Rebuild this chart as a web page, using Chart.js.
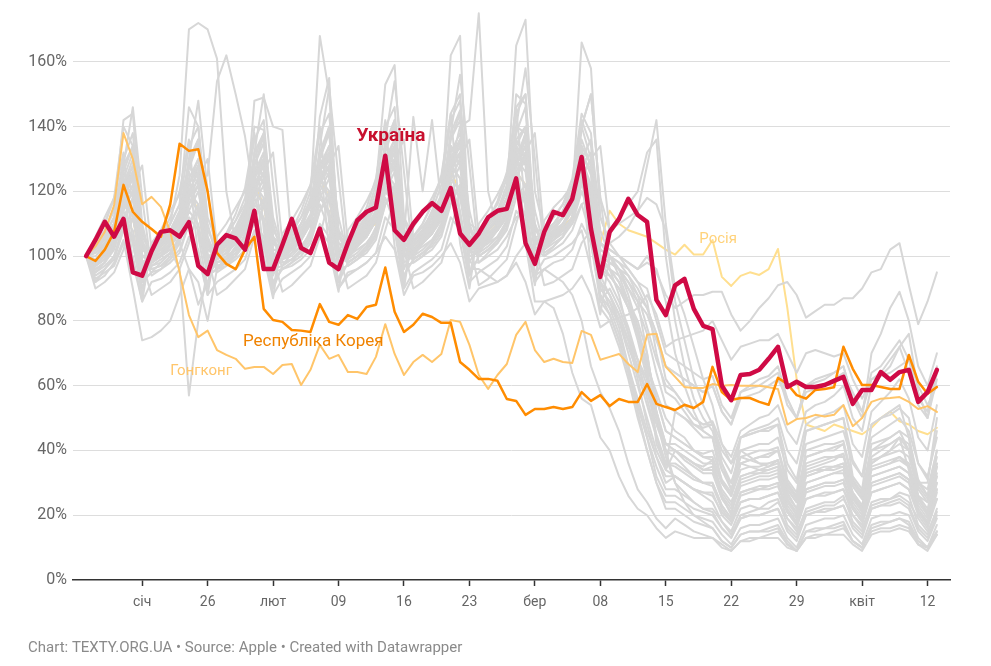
<!DOCTYPE html>
<html>
<head>
<meta charset="utf-8">
<script src="https://cdn.jsdelivr.net/npm/chart.js@4.4.1/dist/chart.umd.min.js"></script>
<style>
  html, body { margin: 0; padding: 0; background: #fff; }
  #wrap { width: 991px; height: 666px; }
</style>
</head>
<body>
<div id="wrap"><canvas id="mobility" width="991" height="666"></canvas></div>
<script>
// days since 13 Jan 2020 (Mon) .. 13 Apr 2020
const dayCount = 92;
const tickDays = [6, 13, 20, 27, 34, 41, 48, 55, 62, 69, 76, 83, 90];
const tickLabels = ["січ", "26", "лют", "09", "16", "23", "бер", "08", "15", "22", "29", "квіт", "12"];
const yTicks = [0, 20, 40, 60, 80, 100, 120, 140, 160];

const ukraine = [
  100, 105, 110.6, 106, 111.5, 95, 94,
  101.5, 107.5, 108, 106, 110.5, 97, 94.5,
  103.5, 106.5, 105.5, 102, 114, 96, 96,
  103.5, 111.5, 102.5, 101, 108.5, 98, 96,
  104, 111, 113.7, 115, 131, 108, 105,
  110, 113.7, 116.4, 114, 121, 107, 103.5,
  107, 112, 114, 114.6, 124, 104, 97.6,
  107.5, 113.7, 112.7, 117.7, 130.6, 108.4, 93.6,
  107.5, 111.5, 117.7, 112.7, 110.6, 86.5, 81.8,
  91, 93, 83.7, 78.5, 77.5, 60, 55.5,
  63.3, 63.6, 64.9, 68.3, 72, 59.6, 61.2,
  59.6, 59.6, 60.2, 61.5, 62.7, 54.4, 58.7,
  58.7, 64.2, 61.8, 64.2, 64.9, 55, 58,
  64.9
];

const korea = [
  100, 98.5, 102, 107.5, 122, 113.7, 110.6,
  108.4, 106, 116, 134.7, 132.5, 133, 120,
  101, 97.6, 96, 102, 106, 83.7, 80.3,
  79.7, 77.2, 77, 76.6, 85.2, 79.7, 78.8,
  81.8, 80.6, 84.3, 85, 96.5, 82.8, 76.6,
  78.8, 82.2, 81.2, 79.4, 79.4, 67.3, 64.9,
  62.1, 62.1, 61.5, 55.9, 55.3, 51, 52.8,
  52.8, 53.4, 52.8, 53.4, 58, 55.3, 57.1,
  53.7, 55.9, 55, 55, 60.5, 54.4, 53.4,
  52.5, 54.1, 53.1, 55, 65.8, 58, 55.6,
  56.2, 56.2, 55, 54.1, 62.4, 60.5, 57.1,
  56, 58.7, 59, 59.5, 72, 65.2, 60.2,
  60.2, 59.6, 59, 59, 69.5, 61.2, 57.5,
  59.6
];

const hongKong = [
  100, 103, 107.5, 115.8, 138, 130, 116,
  118.3, 115.2, 107.5, 95, 81.8, 75, 77,
  71, 69.5, 68.3, 65.2, 65.8, 65.8, 63.6,
  66.4, 66.7, 60.2, 64.9, 72.6, 68.3, 69.5,
  64.2, 64.2, 63.6, 68.9, 79, 69.8, 63.3,
  67.3, 69.5, 67.3, 69.8, 80.3, 79.7, 72.6,
  63.3, 59, 63.3, 66.7, 75.7, 79.7, 71,
  67.3, 68.3, 67.3, 67, 76.9, 75.7, 68,
  68.9, 69.8, 66.7, 64.2, 75.7, 76, 65.8,
  62.7, 59.6, 59.3, 59.3, 60.5, 60, 60.2,
  60, 60, 60, 59.5, 59, 48, 49.7,
  50, 51, 50.5, 51, 54, 47.5, 50,
  55, 56, 56.2, 56.5, 55, 52.8, 53.7,
  51.9
];

const russia = [
  100, 101, 104, 108, 118, 112, 96,
  100, 102, 105, 109, 120, 114, 98,
  100, 103, 106, 110, 122, 116, 98,
  101, 104, 107, 111, 124, 118, 100,
  102, 105, 108, 110, 124, 118, 100,
  103, 106, 109, 112, 126, 120, 102,
  104, 107, 110, 113, 126, 122, 102,
  104, 106, 109, 112, 124, 118, 104,
  114, 110, 108, 107, 106, 104, 102,
  100.5, 103.5, 100.5, 100.5, 105, 93.6, 90.8,
  93.9, 95, 94.2, 96, 102.2, 84, 62,
  48, 47, 46, 48, 47, 46, 45,
  47, 50, 52, 49, 48, 46, 45,
  47
];

// all other countries (grey)
const otherCountries = [
  [100, 98, 103, 108, 122, 130, 96, 99, 104, 110, 125, 170, 172, 170, 161, 120, 104, 108, 128, 135, 98, 101, 104, 108, 112, 130, 140, 97, 102, 106, 110, 116, 135, 142, 100, 104, 108, 112, 118, 138, 145, 102, 106, 110, 114, 120, 140, 138, 104, 108, 110, 112, 118, 132, 125, 92, 88, 82, 74, 62, 48, 38, 30, 32, 30, 28, 26, 24, 18, 15, 22, 23, 22, 24, 25, 17, 14, 22, 23, 24, 24, 26, 18, 15, 24, 25, 25, 27, 26, 17, 14, 22],
  [100, 97, 99, 104, 115, 120, 105, 98, 101, 106, 112, 118, 122, 125, 154, 162, 150, 137, 118, 124, 100, 99, 102, 106, 110, 122, 128, 102, 100, 104, 108, 114, 126, 132, 104, 102, 105, 109, 114, 128, 134, 106, 103, 107, 110, 116, 128, 136, 104, 104, 108, 110, 114, 125, 120, 96, 94, 90, 86, 80, 70, 52, 42, 40, 38, 36, 34, 35, 26, 22, 30, 31, 32, 32, 33, 24, 20, 30, 31, 32, 33, 34, 25, 21, 32, 33, 34, 35, 33, 24, 20, 30],
  [100, 103, 108, 115, 142, 144, 110, 98, 100, 104, 112, 128, 136, 104, 96, 100, 105, 112, 148, 149, 140, 139, 104, 108, 116, 130, 138, 102, 100, 104, 110, 118, 134, 140, 104, 101, 106, 112, 118, 136, 142, 106, 104, 108, 112, 118, 136, 140, 102, 104, 106, 110, 116, 130, 122, 90, 86, 78, 66, 54, 44, 35, 28, 28, 26, 24, 22, 21, 16, 13, 19, 20, 20, 21, 22, 15, 12, 20, 21, 22, 22, 23, 16, 13, 22, 23, 23, 24, 22, 15, 12, 19],
  [100, 102, 106, 112, 128, 134, 100, 99, 103, 107, 113, 130, 136, 102, 100, 104, 108, 114, 132, 138, 104, 101, 106, 110, 118, 168, 150, 106, 102, 106, 112, 120, 140, 146, 106, 104, 108, 114, 122, 142, 148, 108, 106, 110, 114, 122, 144, 150, 106, 106, 110, 114, 122, 140, 130, 98, 96, 92, 86, 78, 66, 56, 46, 44, 42, 40, 39, 40, 31, 27, 36, 37, 38, 39, 40, 29, 25, 38, 39, 40, 41, 42, 30, 26, 40, 41, 42, 44, 42, 30, 26, 38],
  [100, 96, 98, 103, 112, 118, 92, 95, 98, 101, 106, 116, 122, 94, 96, 99, 103, 108, 120, 126, 96, 97, 101, 105, 111, 143, 155, 100, 99, 103, 107, 112, 124, 130, 98, 100, 104, 108, 113, 126, 132, 100, 101, 105, 109, 114, 128, 134, 100, 102, 105, 108, 112, 120, 112, 86, 82, 74, 64, 52, 40, 30, 24, 24, 22, 20, 19, 18, 14, 11, 16, 17, 17, 18, 19, 13, 10, 17, 18, 19, 19, 20, 14, 11, 19, 20, 20, 21, 20, 13, 10, 17],
  [100, 104, 108, 114, 130, 138, 106, 101, 105, 110, 116, 134, 140, 108, 102, 106, 111, 118, 136, 142, 108, 103, 107, 112, 120, 138, 144, 108, 104, 108, 113, 122, 153, 159, 112, 106, 110, 116, 124, 144, 150, 110, 108, 112, 116, 124, 146, 150, 108, 108, 112, 116, 122, 142, 134, 102, 100, 96, 90, 84, 76, 64, 54, 52, 50, 48, 47, 48, 38, 33, 44, 45, 46, 47, 48, 36, 31, 46, 47, 48, 49, 50, 37, 32, 48, 50, 51, 53, 50, 36, 31, 46],
  [100, 99, 102, 106, 124, 132, 98, 100, 101, 104, 109, 127, 135, 100, 100, 102, 106, 110, 128, 137, 100, 101, 103, 107, 112, 130, 139, 101, 102, 104, 108, 114, 132, 141, 102, 103, 106, 110, 116, 162, 168, 104, 104, 108, 112, 118, 138, 146, 104, 106, 108, 112, 118, 136, 128, 96, 92, 86, 78, 68, 56, 45, 36, 35, 33, 31, 30, 30, 23, 19, 27, 28, 28, 29, 30, 21, 17, 28, 29, 30, 30, 31, 22, 18, 30, 31, 32, 33, 31, 21, 17, 28],
  [100, 101, 103, 106, 118, 124, 102, 101, 102, 105, 108, 120, 126, 104, 102, 104, 106, 110, 122, 128, 104, 103, 105, 108, 112, 124, 130, 106, 104, 106, 109, 114, 126, 132, 106, 105, 107, 110, 115, 128, 140, 142, 175, 120, 108, 112, 124, 130, 104, 104, 106, 108, 112, 122, 118, 96, 94, 90, 84, 76, 66, 58, 50, 46, 44, 40, 38, 37, 30, 26, 34, 35, 35, 36, 37, 28, 24, 35, 36, 37, 38, 38, 29, 25, 37, 38, 39, 40, 38, 28, 24, 35],
  [100, 103, 106, 110, 126, 134, 104, 101, 104, 107, 112, 128, 136, 104, 102, 105, 108, 113, 130, 138, 106, 103, 106, 110, 115, 132, 140, 106, 104, 107, 111, 116, 134, 142, 108, 105, 108, 112, 118, 136, 144, 108, 106, 109, 113, 120, 165, 173, 120, 108, 112, 116, 124, 144, 138, 104, 100, 94, 86, 76, 64, 52, 42, 40, 37, 35, 33, 33, 25, 21, 29, 30, 31, 31, 32, 23, 19, 30, 31, 32, 33, 33, 24, 20, 32, 33, 34, 35, 33, 23, 19, 30],
  [100, 98, 101, 105, 120, 126, 96, 98, 100, 103, 108, 122, 128, 98, 99, 101, 104, 109, 124, 130, 98, 100, 102, 105, 110, 126, 132, 100, 100, 103, 106, 112, 128, 134, 100, 101, 104, 107, 113, 130, 136, 102, 102, 105, 108, 114, 150, 147, 104, 104, 108, 112, 118, 166, 158, 112, 104, 100, 96, 92, 86, 70, 58, 56, 52, 48, 46, 44, 34, 28, 38, 39, 40, 40, 41, 30, 25, 40, 41, 42, 42, 43, 31, 26, 42, 43, 44, 46, 44, 31, 26, 40],
  [100, 97, 100, 104, 116, 122, 104, 98, 100, 103, 107, 118, 124, 106, 99, 101, 104, 108, 120, 126, 106, 100, 102, 105, 110, 122, 128, 108, 100, 103, 106, 111, 124, 130, 108, 101, 104, 107, 112, 126, 132, 110, 102, 105, 108, 113, 128, 134, 110, 103, 106, 109, 114, 130, 136, 112, 104, 106, 109, 114, 128, 142, 110, 90, 82, 72, 62, 54, 42, 36, 40, 38, 36, 35, 36, 28, 24, 32, 33, 34, 34, 35, 26, 22, 34, 35, 36, 37, 35, 25, 21, 32],
  [100, 96, 98, 102, 112, 108, 94, 97, 99, 101, 105, 114, 110, 96, 98, 100, 102, 106, 116, 112, 97, 99, 101, 103, 107, 118, 114, 98, 100, 102, 104, 108, 120, 116, 100, 101, 103, 105, 109, 122, 118, 101, 102, 104, 106, 110, 122, 118, 102, 103, 105, 107, 111, 124, 120, 104, 102, 100, 98, 96, 100, 95, 88, 84, 86, 88, 88, 89, 89, 82, 77, 80, 84, 87, 91, 92, 88, 81, 83, 85, 85, 87, 87, 90, 95, 96, 102, 104, 91, 79, 86, 95],
  [100, 95, 97, 100, 108, 112, 96, 96, 97, 99, 102, 110, 114, 98, 97, 98, 100, 104, 112, 116, 98, 98, 99, 101, 105, 114, 118, 100, 98, 100, 102, 106, 116, 120, 100, 99, 101, 103, 107, 118, 122, 102, 100, 102, 104, 108, 118, 122, 102, 100, 102, 104, 108, 116, 118, 98, 96, 94, 90, 86, 82, 74, 66, 64, 62, 60, 58, 60, 52, 48, 58, 60, 62, 63, 66, 56, 50, 60, 62, 63, 64, 66, 56, 50, 70, 76, 84, 89, 80, 66, 60, 70],
  [100, 92, 94, 98, 105, 90, 74, 75, 77, 80, 88, 96, 92, 80, 96, 98, 100, 104, 112, 104, 90, 97, 99, 102, 106, 116, 108, 92, 98, 100, 103, 107, 118, 110, 94, 99, 101, 104, 108, 120, 112, 94, 100, 102, 105, 110, 120, 112, 94, 99, 100, 102, 104, 108, 96, 84, 80, 72, 62, 50, 40, 30, 22, 22, 20, 18, 17, 16, 12, 10, 14, 15, 15, 16, 17, 12, 9, 15, 16, 16, 17, 18, 12, 10, 17, 18, 18, 19, 18, 12, 10, 15],
  [100, 97, 99, 103, 118, 125, 100, 98, 100, 102, 96, 57, 80, 96, 100, 102, 105, 110, 125, 130, 100, 101, 103, 106, 112, 126, 132, 102, 101, 104, 107, 113, 128, 134, 102, 102, 105, 108, 114, 130, 136, 104, 103, 106, 110, 116, 132, 136, 104, 104, 106, 108, 112, 124, 116, 92, 88, 80, 70, 60, 50, 40, 34, 32, 30, 28, 27, 27, 20, 17, 24, 25, 25, 26, 27, 19, 16, 25, 26, 27, 27, 28, 20, 17, 27, 28, 29, 30, 28, 20, 16, 25],
  [100, 94, 96, 99, 108, 114, 92, 95, 96, 98, 101, 110, 116, 94, 96, 97, 99, 102, 112, 118, 95, 96, 98, 100, 104, 114, 120, 96, 97, 99, 101, 105, 116, 122, 97, 98, 100, 102, 106, 116, 122, 98, 98, 100, 102, 106, 112, 114, 94, 96, 94, 92, 88, 80, 66, 58, 53, 46, 36, 28, 24, 19, 16, 19, 17, 15, 14, 13, 11, 9, 12, 13, 13, 14, 15, 11, 9, 13, 14, 14, 15, 16, 12, 10, 15, 16, 16, 17, 16, 11, 10, 14],
  [100, 102, 104, 108, 120, 126, 102, 100, 103, 106, 110, 122, 128, 104, 101, 104, 107, 111, 124, 130, 104, 102, 104, 108, 112, 126, 132, 106, 102, 105, 108, 113, 128, 134, 106, 103, 106, 109, 114, 128, 124, 96, 96, 94, 92, 94, 100, 104, 86, 86, 84, 76, 64, 56, 54, 44, 40, 32, 26, 22, 20, 16, 13, 15, 14, 13, 13, 13, 10, 9, 12, 12, 13, 13, 13, 10, 9, 13, 13, 14, 14, 14, 11, 9, 14, 15, 15, 16, 15, 11, 9, 14],
  [100, 98, 102, 107, 118, 114, 96, 99, 101, 104, 109, 120, 116, 98, 100, 102, 105, 110, 122, 118, 98, 100, 103, 106, 111, 124, 120, 100, 101, 104, 107, 112, 126, 122, 100, 102, 105, 108, 113, 128, 124, 102, 103, 106, 109, 114, 130, 126, 102, 104, 107, 110, 115, 128, 122, 100, 98, 96, 94, 88, 78, 68, 60, 58, 54, 50, 48, 48, 40, 36, 44, 46, 47, 48, 50, 40, 36, 48, 50, 51, 52, 54, 42, 38, 52, 55, 58, 62, 56, 44, 40, 54],
  [100, 103, 107, 112, 126, 120, 100, 101, 104, 108, 113, 128, 122, 102, 102, 105, 109, 115, 130, 124, 102, 102, 106, 110, 116, 132, 126, 104, 103, 107, 111, 117, 134, 128, 104, 104, 108, 112, 118, 134, 128, 106, 105, 108, 112, 118, 136, 130, 104, 106, 109, 112, 118, 132, 126, 102, 100, 98, 96, 92, 90, 80, 70, 68, 66, 64, 62, 63, 54, 50, 58, 59, 60, 62, 64, 54, 50, 60, 61, 62, 64, 66, 56, 52, 64, 66, 70, 74, 68, 56, 52, 66],
  [100, 99, 101, 104, 114, 120, 98, 97, 98, 101, 104, 116, 122, 100, 98, 99, 102, 106, 118, 124, 100, 99, 100, 103, 107, 120, 126, 102, 99, 101, 104, 108, 122, 128, 102, 100, 102, 105, 110, 124, 130, 104, 101, 103, 106, 111, 126, 132, 104, 102, 104, 106, 110, 120, 116, 90, 86, 80, 72, 64, 54, 44, 36, 36, 34, 32, 30, 29, 22, 18, 26, 27, 28, 28, 29, 21, 17, 27, 28, 29, 29, 30, 22, 18, 29, 30, 31, 32, 30, 21, 17, 27],
  [100, 104, 110, 118, 132, 104, 88, 102, 106, 112, 120, 136, 106, 90, 103, 107, 113, 121, 138, 108, 90, 104, 108, 114, 122, 140, 110, 92, 105, 109, 115, 124, 142, 112, 92, 106, 110, 116, 125, 144, 112, 94, 107, 111, 117, 126, 146, 114, 94, 106, 110, 114, 120, 134, 104, 86, 90, 84, 76, 68, 62, 44, 34, 40, 38, 36, 35, 37, 26, 20, 32, 33, 34, 35, 37, 25, 20, 34, 35, 36, 37, 39, 26, 21, 36, 38, 40, 42, 40, 26, 20, 35],
  [100, 93, 95, 97, 104, 100, 86, 92, 93, 95, 98, 106, 102, 88, 92, 94, 96, 99, 108, 104, 88, 93, 95, 97, 100, 110, 106, 90, 94, 96, 98, 101, 112, 108, 90, 95, 97, 99, 102, 112, 108, 92, 95, 97, 99, 103, 114, 110, 92, 96, 98, 99, 102, 110, 104, 88, 84, 80, 74, 68, 60, 50, 42, 42, 40, 38, 36, 36, 28, 24, 32, 33, 33, 34, 35, 26, 22, 33, 34, 35, 35, 36, 27, 23, 35, 36, 37, 38, 36, 26, 22, 33],
  [100, 105, 110, 118, 140, 134, 108, 100, 104, 108, 114, 128, 124, 100, 100, 104, 108, 114, 140, 139, 112, 102, 106, 110, 116, 130, 126, 102, 102, 106, 110, 116, 132, 128, 104, 103, 107, 111, 117, 134, 130, 104, 104, 108, 112, 118, 134, 130, 104, 104, 108, 112, 118, 128, 118, 94, 88, 82, 74, 66, 58, 48, 40, 40, 38, 36, 34, 34, 27, 23, 31, 32, 33, 33, 34, 25, 21, 32, 33, 34, 35, 35, 26, 22, 34, 35, 36, 38, 35, 25, 21, 32],
  [100, 102, 105, 110, 122, 128, 102, 100, 103, 106, 111, 124, 130, 104, 101, 104, 107, 112, 126, 132, 104, 102, 105, 108, 113, 128, 134, 106, 102, 106, 109, 114, 130, 136, 106, 143, 120, 142, 116, 132, 138, 108, 104, 108, 111, 116, 134, 140, 108, 105, 108, 112, 117, 134, 128, 100, 96, 92, 84, 74, 62, 50, 40, 38, 35, 32, 30, 30, 23, 19, 27, 28, 29, 29, 30, 22, 18, 28, 29, 30, 30, 31, 23, 19, 30, 31, 32, 33, 31, 22, 18, 28],
  [100, 98, 100, 103, 110, 106, 92, 99, 100, 102, 105, 112, 108, 94, 98, 99, 101, 104, 110, 106, 92, 96, 97, 99, 102, 108, 104, 90, 95, 96, 98, 101, 106, 102, 88, 94, 95, 97, 100, 104, 98, 86, 90, 91, 92, 94, 98, 92, 82, 86, 87, 88, 90, 94, 88, 78, 80, 81, 82, 84, 88, 82, 72, 74, 75, 76, 77, 80, 74, 68, 72, 73, 74, 74, 76, 70, 64, 70, 71, 70, 69, 70, 62, 56, 62, 63, 64, 66, 68, 60, 54, 60],
  [100, 106, 112, 118, 124, 98, 86, 104, 108, 114, 119, 126, 100, 88, 106, 110, 115, 120, 128, 100, 87, 107, 111, 116, 122, 130, 102, 89, 108, 112, 117, 123, 130, 103, 90, 109, 113, 118, 124, 132, 104, 90, 110, 114, 119, 125, 134, 105, 91, 111, 115, 118, 122, 126, 96, 82, 100, 96, 88, 78, 66, 42, 35, 52, 50, 47, 44, 44, 30, 26, 44, 45, 46, 46, 48, 31, 27, 46, 47, 48, 49, 50, 32, 28, 48, 50, 52, 54, 44, 30, 30, 50],
  [100, 95, 98, 104, 128, 146, 118, 96, 97, 100, 106, 130, 148, 120, 97, 98, 101, 107, 132, 150, 122, 98, 99, 102, 108, 134, 152, 124, 98, 100, 103, 109, 136, 154, 126, 99, 101, 104, 110, 138, 156, 128, 100, 102, 105, 111, 140, 158, 130, 101, 103, 106, 112, 140, 150, 118, 96, 88, 76, 64, 58, 50, 38, 30, 27, 24, 22, 22, 18, 14, 20, 21, 22, 22, 24, 19, 15, 21, 22, 23, 23, 25, 20, 16, 23, 24, 25, 26, 24, 19, 15, 21],
  [100, 104, 106, 109, 116, 122, 128, 102, 104, 107, 110, 118, 124, 130, 103, 105, 108, 111, 120, 126, 132, 104, 106, 109, 112, 122, 128, 134, 104, 107, 110, 113, 122, 130, 136, 105, 108, 110, 114, 124, 130, 136, 106, 108, 111, 115, 124, 132, 138, 106, 109, 112, 115, 124, 130, 134, 108, 110, 112, 114, 118, 116, 108, 86, 74, 62, 54, 48, 36, 28, 36, 35, 34, 34, 35, 27, 22, 33, 34, 34, 35, 36, 27, 23, 36, 38, 40, 44, 34, 26, 24, 36],
  [100, 101, 104, 107, 116, 112, 98, 100, 102, 105, 108, 118, 114, 100, 101, 103, 106, 109, 120, 116, 100, 101, 103, 106, 110, 122, 118, 102, 102, 104, 107, 111, 124, 120, 102, 102, 104, 107, 111, 124, 120, 104, 103, 105, 108, 112, 126, 122, 104, 104, 106, 108, 112, 124, 118, 100, 98, 96, 92, 86, 70, 52, 40, 30, 24, 20, 18, 16, 12, 10, 14, 15, 15, 15, 16, 11, 9, 15, 15, 16, 16, 17, 12, 10, 16, 17, 18, 19, 17, 11, 10, 15],
  [100, 97, 101, 105, 116, 126, 108, 98, 100, 103, 107, 118, 128, 110, 99, 101, 104, 108, 120, 130, 110, 100, 102, 105, 110, 122, 132, 112, 100, 103, 106, 111, 124, 134, 112, 101, 104, 107, 112, 126, 136, 114, 102, 105, 108, 113, 128, 138, 114, 103, 106, 108, 112, 124, 130, 108, 100, 98, 94, 90, 84, 76, 62, 58, 54, 50, 48, 49, 42, 38, 46, 48, 50, 51, 54, 46, 42, 52, 54, 55, 57, 60, 50, 46, 60, 63, 66, 72, 76, 58, 50, 64],
  [100, 90, 92, 95, 102, 112, 98, 88, 90, 92, 96, 104, 114, 100, 88, 90, 93, 96, 106, 116, 100, 89, 91, 94, 97, 106, 118, 102, 90, 92, 94, 98, 108, 118, 102, 90, 92, 95, 98, 108, 120, 104, 91, 93, 96, 99, 110, 120, 104, 91, 92, 94, 96, 104, 108, 92, 84, 76, 66, 56, 46, 38, 32, 32, 30, 28, 27, 26, 21, 18, 24, 25, 25, 26, 27, 21, 18, 25, 26, 26, 27, 28, 22, 18, 27, 28, 29, 30, 28, 21, 18, 25],
  [100, 102, 106, 110, 124, 118, 96, 103, 106, 110, 116, 146, 140, 112, 104, 107, 111, 116, 128, 122, 100, 104, 108, 112, 117, 130, 124, 102, 105, 108, 112, 118, 132, 126, 102, 106, 109, 113, 119, 134, 128, 104, 106, 110, 114, 120, 134, 128, 104, 107, 110, 114, 118, 130, 120, 98, 94, 90, 84, 76, 68, 56, 46, 44, 42, 40, 38, 38, 30, 26, 36, 37, 38, 38, 40, 30, 26, 38, 39, 40, 40, 42, 31, 27, 40, 42, 44, 46, 40, 30, 28, 40],
  [100, 92, 96, 100, 110, 118, 104, 94, 96, 99, 104, 114, 120, 106, 95, 97, 100, 105, 116, 122, 106, 96, 98, 102, 106, 118, 124, 108, 97, 99, 102, 107, 120, 126, 108, 98, 100, 104, 108, 122, 128, 110, 98, 101, 104, 109, 124, 132, 110, 100, 103, 106, 112, 140, 150, 118, 108, 112, 116, 120, 132, 136, 100, 80, 66, 56, 50, 46, 36, 30, 38, 37, 36, 36, 37, 28, 24, 36, 37, 38, 38, 39, 29, 25, 38, 40, 42, 44, 40, 29, 25, 36],
  [100, 99, 102, 106, 118, 124, 98, 100, 102, 105, 109, 120, 126, 100, 101, 103, 106, 110, 122, 128, 100, 101, 104, 107, 111, 124, 130, 102, 102, 104, 108, 112, 126, 132, 102, 102, 105, 108, 113, 126, 132, 104, 103, 106, 109, 114, 128, 134, 104, 104, 107, 110, 114, 126, 128, 100, 98, 96, 92, 88, 84, 76, 66, 64, 62, 60, 58, 60, 52, 48, 56, 57, 58, 60, 62, 56, 50, 58, 59, 60, 62, 64, 58, 52, 62, 64, 68, 72, 64, 54, 50, 62],
  [100, 100, 103, 107, 120, 128, 100, 100, 101, 104, 108, 122, 130, 102, 100, 102, 105, 109, 124, 132, 102, 101, 102, 106, 110, 126, 134, 104, 101, 103, 106, 111, 128, 136, 104, 102, 104, 107, 112, 128, 136, 106, 102, 104, 108, 112, 130, 138, 106, 103, 105, 108, 112, 128, 132, 104, 102, 100, 98, 96, 98, 96, 86, 70, 60, 52, 46, 44, 34, 30, 40, 41, 42, 42, 44, 34, 30, 42, 43, 44, 45, 46, 36, 32, 44, 46, 48, 50, 46, 36, 32, 44],
  [100, 103, 105, 108, 114, 104, 90, 101, 103, 106, 104, 96, 85, 92, 102, 104, 107, 110, 118, 110, 94, 102, 104, 107, 111, 120, 112, 96, 103, 105, 108, 112, 122, 114, 96, 103, 106, 109, 113, 122, 114, 98, 104, 106, 109, 114, 124, 116, 98, 104, 106, 108, 110, 116, 106, 88, 82, 74, 64, 54, 44, 32, 26, 26, 24, 22, 21, 20, 16, 13, 19, 20, 20, 21, 22, 16, 13, 20, 21, 21, 22, 23, 17, 14, 22, 23, 24, 25, 23, 16, 13, 20]
];

const lineLabels = [
  { text: "Україна", day: 32.6, value: 137.1, color: "#c8102e", bold: true, size: 19 },
  { text: "Республіка Корея", day: 24.3, value: 73.5, color: "#ef8200", bold: false, size: 17 },
  { text: "Гонгконг", day: 12.3, value: 64.6, color: "#ffc56a", bold: false, size: 15 },
  { text: "Росія", day: 67.6, value: 105.3, color: "#ffd27a", bold: false, size: 15 }
];

const toPoints = (arr) => arr.map((v, i) => ({ x: i, y: v }));

const datasets = [
  { data: toPoints(ukraine), borderColor: "#cf0a45", borderWidth: 4.5 },
  { data: toPoints(korea), borderColor: "#ff8c00", borderWidth: 2.5 },
  { data: toPoints(hongKong), borderColor: "#ffc56a", borderWidth: 2 }
];
otherCountries.forEach((arr) => {
  datasets.push({ data: toPoints(arr), borderColor: "#d7d7d7", borderWidth: 2 });
});
datasets.push({ data: toPoints(russia), borderColor: "#ffdf8f", borderWidth: 2 });

const labelPlugin = {
  id: "lineLabels",
  afterDatasetsDraw(chart) {
    const { ctx, scales } = chart;
    ctx.save();
    ctx.textAlign = "center";
    ctx.textBaseline = "middle";
    lineLabels.forEach((l) => {
      ctx.font = (l.bold ? "bold " : "") + l.size + "px Roboto";
      ctx.fillStyle = l.color;
      ctx.fillText(l.text, scales.x.getPixelForValue(l.day), scales.y.getPixelForValue(l.value));
    });
    ctx.textAlign = "left";
    ctx.font = "15px Roboto";
    ctx.fillStyle = "#8a8a8a";
    ctx.fillText("Chart: TEXTY.ORG.UA • Source: Apple • Created with Datawrapper", 28, 648);
    ctx.restore();
  }
};

new Chart(document.getElementById("mobility").getContext("2d"), {
  type: "line",
  data: { datasets: datasets },
  options: {
    responsive: false,
    animation: false,
    devicePixelRatio: 1,
    layout: { padding: { top: 10, right: 41, left: 0, bottom: 0 } },
    elements: {
      point: { radius: 0 },
      line: { tension: 0, fill: false, borderJoinStyle: "round", borderCapStyle: "round" }
    },
    scales: {
      x: {
        type: "linear",
        min: -1.4,
        max: 92.4,
        afterBuildTicks: (scale) => {
          scale.ticks = tickDays.map((d) => ({ value: d }));
        },
        afterFit: (scale) => {
          scale.height = 86;
          scale.paddingLeft = 0;
          scale.paddingRight = 0;
        },
        ticks: {
          autoSkip: false,
          maxRotation: 0,
          padding: 8,
          color: "#666",
          font: { family: "Roboto", size: 14 },
          callback: (v) => tickLabels[tickDays.indexOf(v)]
        },
        grid: { drawOnChartArea: false, drawTicks: true, tickLength: 6, color: "#333", tickWidth: 1.5 },
        border: { display: true, color: "#333", width: 1.5 }
      },
      y: {
        min: 0,
        max: 176,
        afterBuildTicks: (scale) => {
          scale.ticks = yTicks.map((v) => ({ value: v }));
        },
        afterFit: (scale) => {
          scale.width = 73;
          scale.paddingTop = 0;
          scale.paddingBottom = 0;
        },
        ticks: {
          padding: 6,
          color: "#666",
          font: { family: "Roboto", size: 16 },
          callback: (v) => v + "%"
        },
        grid: {
          drawTicks: false,
          color: (c) => (c.tick && c.tick.value === 0 ? "rgba(0,0,0,0)" : "#dddddd"),
          lineWidth: 1
        },
        border: { display: false }
      }
    },
    plugins: {
      legend: { display: false },
      tooltip: { enabled: false },
      title: { display: false }
    }
  },
  plugins: [labelPlugin]
});
</script>
</body>
</html>
